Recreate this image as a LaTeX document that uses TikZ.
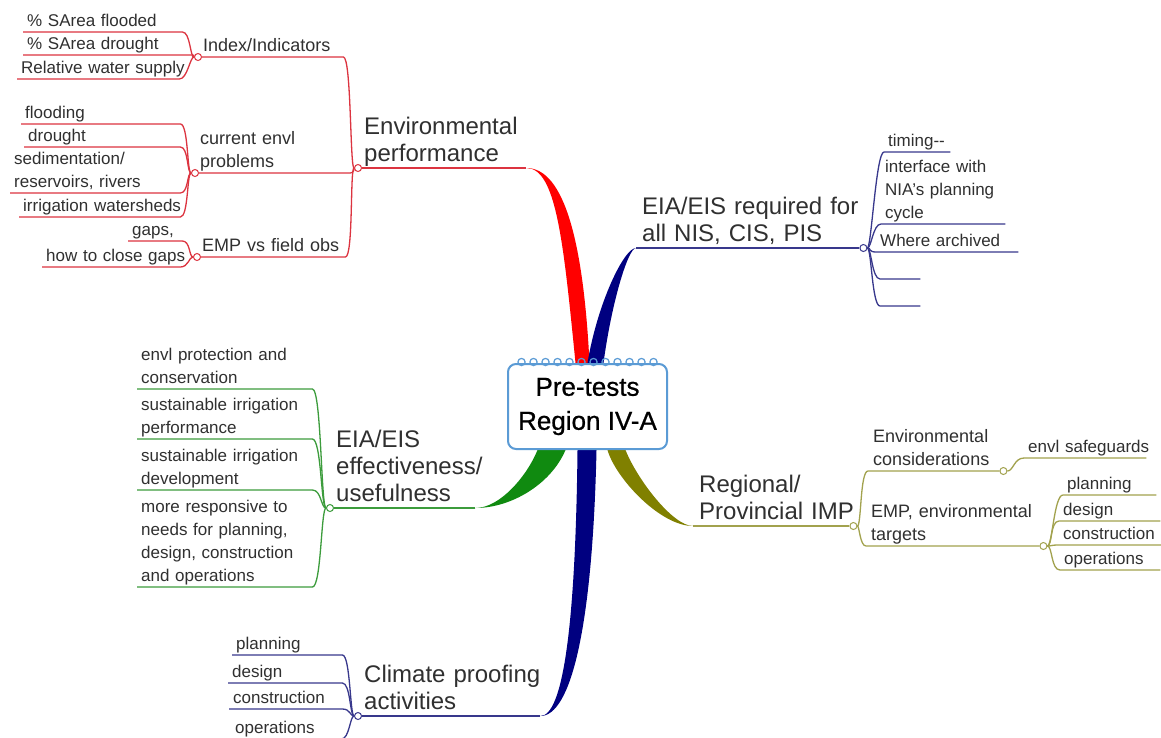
\documentclass[tikz,border=0pt]{standalone}
\usepackage{fontspec}
\setmainfont{Liberation Sans}
\usetikzlibrary{backgrounds}
\hyphenpenalty=10000

\definecolor{ink}{HTML}{303030}
\definecolor{redfill}{HTML}{FF0000}
\definecolor{redline}{HTML}{DC3440}
\definecolor{navyfill}{HTML}{000080}
\definecolor{navyline}{HTML}{38388C}
\definecolor{greenfill}{HTML}{108A10}
\definecolor{greenline}{HTML}{3C9C3C}
\definecolor{olivefill}{HTML}{808000}
\definecolor{oliveline}{HTML}{A2A24E}
\definecolor{hubblue}{HTML}{5B9BD5}

\tikzset{
 leaf/.style={anchor=south west, text width=#1-8pt, align=left, inner xsep=4pt, inner ysep=0pt,
   text=ink, font=\fontsize{17}{23}\selectfont, execute at end node=\rule[-5pt]{0pt}{5pt}},
 sub/.style={anchor=south west, text width=#1-10pt, align=left, inner xsep=5pt, inner ysep=0pt,
   text=ink, font=\fontsize{18}{23}\selectfont, execute at end node=\rule[-5.5pt]{0pt}{5pt}},
 limb/.style={anchor=south west, text width=#1-12pt, align=left, inner xsep=6pt, inner ysep=0pt,
   text=ink, font=\fontsize{24}{27}\selectfont, execute at end node=\rule[-6pt]{0pt}{5pt}},
 knot/.style={circle, draw=#1, fill=white, inner sep=0pt, minimum size=7pt, line width=1pt},
 stem/.style={draw=#1, line width=1.3pt},
 twig/.style={to path={.. controls +(#1,0) and +(-#1,0) .. (\tikztotarget)}},
 twig/.default=-8,
 hub/.style={draw=hubblue, line width=2pt, rounded corners=8pt, fill=white, minimum width=159pt,
   minimum height=85pt, align=center, text=black,
   font=\fontsize{26}{34}\selectfont\addfontfeature{FakeBold=0.8}},
}

\begin{document}
\begin{tikzpicture}[x=1pt, y=-1pt]
 \useasboundingbox (0,0) rectangle (1161,737);

 %中心
 \node[hub] (hub) at (587.5,406.5) {Pre-tests\\Region IV-A};
 \foreach \i in {0,...,11}
  \draw[hubblue, line width=1.2pt] ([xshift={-66+12*\i}, yshift=1pt]hub.north) circle (3.6pt);

 %Environmental performance
 \node[limb=168pt] (env) at (358,168) {Environmental\\performance};
 \node[sub=145pt] (idx) at (198,57) {Index/Indicators};
 \node[sub=155pt] (cur) at (195,173) {current envl\\problems};
 \node[sub=148pt] (emp) at (197,257) {EMP vs field obs};
 \node[leaf=159pt] (fld) at (23,32) {\% SArea flooded};
 \node[leaf=167pt] (drt) at (23,55) {\% SArea drought};
 \node[leaf=162pt] (rws) at (17,79) {Relative~water~supply};
 \node[leaf=159pt] (fldg) at (21,124) {flooding};
 \node[leaf=156pt] (drtg) at (24,147) {drought};
 \node[leaf=170pt] (sed) at (10,193) {sedimentation/\\reservoirs, rivers};
 \node[leaf=161pt] (irw) at (19,217) {irrigation~watersheds};
 \node[leaf=54pt] (gap) at (128,241) {gaps,};
 \node[leaf=138pt] (cls) at (42,267) {how~to~close~gaps};
 \node[knot=redline] (envj) at (env.south west) {};
 \node[knot=redline] (idxj) at (idx.south west) {};
 \node[knot=redline] (curj) at (cur.south west) {};
 \node[knot=redline] (empj) at (emp.south west) {};

 %EIA/EIS required
 \node[limb=227pt] (eia) at (636,248) {EIA/EIS~required~for\\all NIS, CIS, PIS};
 \node[leaf=66pt] (tim) at (884,152) {timing-{}-};
 \node[leaf=124pt] (ifc) at (881,224) {interface with\\NIA's planning\\cycle};
 \node[leaf=142pt] (arch) at (876,252) {Where archived};
 \node[leaf=40pt] (bl1) at (880,279) {};
 \node[leaf=40pt] (bl2) at (880,306) {};
 \node[knot=navyline] (eiaj) at (eia.south east) {};

 %Regional/Provincial IMP
 \node[limb=160pt] (reg) at (693,526) {Regional/\\Provincial~IMP};
 \node[sub=135pt] (cons) at (868,471) {Environmental\\considerations};
 \node[sub=177pt] (tgt) at (866,546) {EMP, environmental\\targets};
 \node[leaf=122pt] (saf) at (1024,458) {envl~safeguards};
 \node[leaf=93pt] (tpl) at (1063,495) {planning};
 \node[leaf=101pt] (tds) at (1059,521) {design};
 \node[leaf=102pt] (tcn) at (1059,545) {construction};
 \node[leaf=100pt] (tor) at (1060,570) {operations};
 \node[knot=oliveline] (regj) at (reg.south east) {};
 \node[knot=oliveline] (consj) at (cons.south east) {};
 \node[knot=oliveline] (tgtj) at (tgt.south east) {};

 %EIA/EIS effectiveness
 \node[limb=145pt] (eff) at (330,508) {EIA/EIS\\effectiveness/\\usefulness};
 \node[leaf=175pt] (epc) at (137,389) {envl protection and\\conservation};
 \node[leaf=175pt] (sip) at (137,439) {sustainable irrigation\\performance};
 \node[leaf=175pt] (sid) at (137,490) {sustainable irrigation\\development};
 \node[leaf=175pt] (mrp) at (137,587) {more responsive to\\needs for planning,\\design, construction\\and operations};
 \node[knot=greenline] (effj) at (eff.south west) {};

 %Climate proofing
 \node[limb=182pt] (clim) at (358,716) {Climate~proofing\\activities};
 \node[leaf=110pt] (cpl) at (232,655) {planning};
 \node[leaf=114pt] (cds) at (228,683) {design};
 \node[leaf=113pt] (ccn) at (229,709) {construction};
 \node[leaf=110pt] (cop) at (231,739) {operations};
 \node[knot=navyline] (climj) at (clim.south west) {};

 \begin{pgfonlayer}{background}
  \fill[white] (0,0) rectangle (1161,737);

  %細い枝
  \draw[stem=redline] (envj) -- (env.south east);
  \draw[stem=redline] (envj) to[twig] (idx.south east) -- (idxj);
  \draw[stem=redline] (envj) to[twig=-4] (cur.south east) -- (curj);
  \draw[stem=redline] (envj) to[twig] (emp.south east) -- (empj);
  \foreach \p/\c in {idxj/fld, idxj/drt, idxj/rws, curj/fldg, curj/drtg, curj/sed, curj/irw, empj/gap, empj/cls}
   \draw[stem=redline] (\p) to[twig] (\c.south east) -- (\c.south west);

  \draw[stem=navyline] (eia.south west) -- (eiaj);
  \foreach \c in {tim, ifc, arch, bl1, bl2}
   \draw[stem=navyline] (eiaj) to[twig=8] (\c.south west) -- (\c.south east);

  \draw[stem=oliveline] (reg.south west) -- (regj);
  \draw[stem=oliveline] (regj) to[twig=8] (cons.south west) -- (consj);
  \draw[stem=oliveline] (regj) to[twig=6] (tgt.south west) -- (tgtj);
  \draw[stem=oliveline] (consj) to[twig=10] (saf.south west) -- (saf.south east);
  \foreach \c in {tpl, tds, tcn, tor}
   \draw[stem=oliveline] (tgtj) to[twig=9] (\c.south west) -- (\c.south east);

  \draw[stem=greenline] (effj) -- (eff.south east);
  \foreach \c in {epc, sip, sid, mrp}
   \draw[stem=greenline] (effj) to[twig=-9] (\c.south east) -- (\c.south west);

  \draw[stem=navyline] (climj) -- (clim.south east);
  \foreach \c in {cpl, cds, ccn, cop}
   \draw[stem=navyline] (climj) to[twig] (\c.south east) -- (\c.south west);

  %太い枝
  \fill[redfill] (env.south east) .. controls +(30,0) and +(-12,-120) .. ([xshift=-12pt]hub.north)
   -- ([xshift=2pt]hub.north) .. controls +(-6,-120) and +(38,0) .. (env.south east) -- cycle;
  \fill[navyfill] (eia.south west) .. controls +(-12,0) and +(10,-60) .. (hub.north)
   -- ([xshift=16pt]hub.north) .. controls +(8,-60) and +(-8,0) .. (eia.south west) -- cycle;
  \fill[greenfill] (eff.south east) .. controls +(25,0) and +(-10,25) .. ([xshift=-50pt]hub.south)
   -- ([xshift=-22pt]hub.south) .. controls +(-15,35) and +(35,0) .. (eff.south east) -- cycle;
  \fill[navyfill] (clim.south east) .. controls +(22,0) and +(-2,180) .. ([xshift=-10pt]hub.south)
   -- ([xshift=9pt]hub.south) .. controls +(-4,180) and +(30,0) .. (clim.south east) -- cycle;
  \fill[olivefill] (reg.south west) .. controls +(-33,0) and +(8,28) .. ([xshift=20pt]hub.south)
   -- ([xshift=38pt]hub.south) .. controls +(12,30) and +(-20,0) .. (reg.south west) -- cycle;
 \end{pgfonlayer}
\end{tikzpicture}
\end{document}
